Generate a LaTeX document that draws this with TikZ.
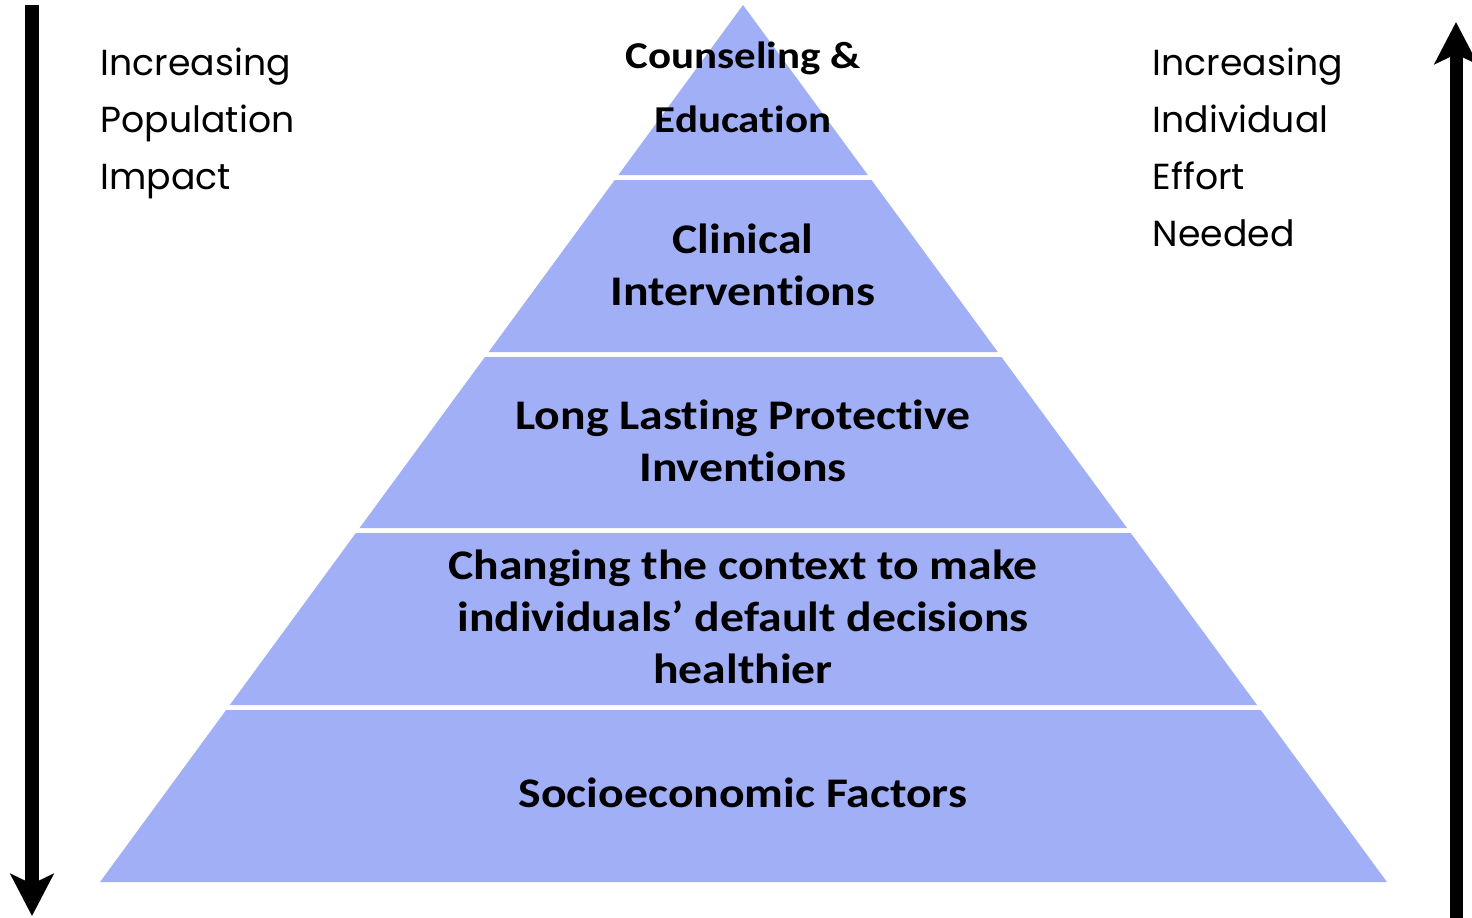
\documentclass[tikz,border=0pt]{standalone}
\usepackage{fontspec}
\usepackage{tikz}
\usetikzlibrary{calc, arrows.meta}
\newfontfamily\bandfont{Carlito}[FakeStretch=1.13, Ligatures=NoCommon]
\newfontfamily\sidefont{Poppins}
\definecolor{bandblue}{RGB}{161,175,247}

\begin{document}
\begin{tikzpicture}[x=0.01cm, y=-0.01cm,
  band/.style={fill=bandblue},
  level/.style={font=\bandfont\bfseries\fontsize{12}{14.8}\selectfont,
    align=center,
    inner sep=0pt,
    anchor=center},
  side/.style={font=\sidefont\fontsize{10.3}{16.2}\selectfont,
    align=left,
    inner sep=0pt,
    anchor=north west},
  trend/.style={line width=0.13cm,
    -{Stealth[length=0.42cm, width=0.43cm, inset=0.1cm]}}]

  \useasboundingbox (0,0) rectangle (1472,917);

  % PYRAMID

  \coordinate (apex) at (743,5);
  \coordinate (baseleft) at (100,882);
  \coordinate (baseright) at (1387,882);

  \foreach \ya/\yb in {5/175, 180/352, 357/528, 533/705, 710/882}
    \fill[band] ($(apex)!{(\ya-5)/877}!(baseleft)$)
      -- ($(apex)!{(\ya-5)/877}!(baseright)$)
      -- ($(apex)!{(\yb-5)/877}!(baseright)$)
      -- ($(apex)!{(\yb-5)/877}!(baseleft)$) -- cycle;

  % LEVELS

  \node [level, font=\bandfont\bfseries\fontsize{10.8}{18.2}\selectfont]
    (counseling) at (743,87) {Counseling \&\\Education};
  \node [level] (clinical) at (743,264.5) {Clinical\\Interventions};
  \node [level] (protective) at (743,440.5)
    {Long Lasting Protective\\Inventions};
  \node [level] (context) at (743,616.5)
    {Changing the context to make\\individuals’ default decisions\\healthier};
  \node [level] (socioeconomic) at (743,792.5) {Socioeconomic Factors};

  % SIDE ARROWS

  \node [side] (populationtitle) at (100,47)
    {Increasing\\Population\\Impact};
  \node [side] (efforttitle) at (1152,47)
    {Increasing\\Individual\\Effort\\Needed};

  \coordinate (populationtop) at (32,5);
  \coordinate (populationtip) at (32,916);
  \coordinate (effortbottom) at (1456,930);
  \coordinate (efforttip) at (1456,22);

  \draw[trend] (populationtop) -- (populationtip);
  \draw[trend] (effortbottom) -- (efforttip);

\end{tikzpicture}
\end{document}
